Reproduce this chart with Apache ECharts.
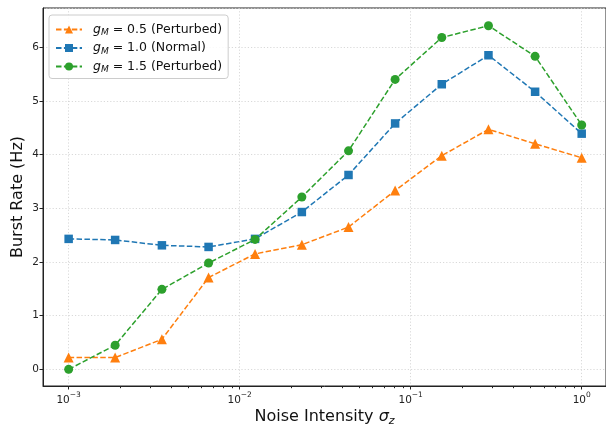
<!DOCTYPE html>
<html>
<head>
<meta charset="utf-8">
<script src="https://cdn.jsdelivr.net/npm/echarts@6/dist/echarts.min.js"></script>
<style>
html,body{margin:0;padding:0;background:#fff;}
#c{width:606px;height:426px;}
</style>
</head>
<body>
<div id="c"></div>
<script>
// noise intensity values (x)
const noise = [0.001, 0.00187, 0.00351, 0.00658, 0.0123, 0.0231, 0.0433, 0.0811, 0.152, 0.285, 0.534, 1.0];
// burst rates (Hz)
const rateLow = [0.22, 0.22, 0.56, 1.71, 2.15, 2.32, 2.65, 3.33, 3.98, 4.47, 4.20, 3.94];   // gM = 0.5
const rateNormal = [2.43, 2.41, 2.31, 2.28, 2.43, 2.93, 3.62, 4.58, 5.31, 5.85, 5.17, 4.39]; // gM = 1.0
const rateHigh = [0.00, 0.45, 1.49, 1.98, 2.42, 3.21, 4.07, 5.40, 6.18, 6.40, 5.83, 4.55];  // gM = 1.5
const seriesNames = ['gM = 0.5 (Perturbed)', 'gM = 1.0 (Normal)', 'gM = 1.5 (Perturbed)'];
const legendValues = ['0.5 (Perturbed)', '1.0 (Normal)', '1.5 (Perturbed)'];
const minorTicks = [0.002,0.003,0.004,0.005,0.006,0.007,0.008,0.009,
  0.02,0.03,0.04,0.05,0.06,0.07,0.08,0.09,
  0.2,0.3,0.4,0.5,0.6,0.7,0.8,0.9];
const supLabels = {'-3':'−3','-2':'−2','-1':'−1','0':'0'};

const FONT = 'DejaVu Sans';
const chart = echarts.init(document.getElementById('c'), null, {renderer:'canvas'});
const pair = (ys) => noise.map((x, i) => [x, ys[i]]);
const dash = [5.5, 2.4];
const colors = ['#ff7f0e', '#1f77b4', '#2ca02c'];
const symbols = ['triangle', 'rect', 'circle'];
const sizes = [10, 8.5, 9];
const dataSets = [rateLow, rateNormal, rateHigh];
const X_MIN = 0.000708, X_MAX = 1.387;

const series = dataSets.map((d, i) => ({
  name: seriesNames[i],
  type: 'line',
  xAxisIndex: 0, yAxisIndex: 0,
  data: pair(d),
  symbol: symbols[i],
  symbolSize: sizes[i],
  showAllSymbol: true,
  itemStyle: {color: colors[i]},
  lineStyle: {color: colors[i], width: 1.5, type: dash},
  emphasis: {disabled: true},
  animation: false,
  z: 3 + i
}));

chart.setOption({
  animation: false,
  textStyle: {fontFamily: FONT},
  grid: {left: 43, top: 8, right: 0, bottom: 40, show: true, borderColor: '#222', borderWidth: 1, containLabel: false, outerBoundsMode: 'none'},
  legend: {
    orient: 'vertical', left: 49, top: 15,
    padding: [8, 6, 4, 6],
    itemWidth: 26, itemHeight: 10, itemGap: 4,
    backgroundColor: 'rgba(255,255,255,0.85)',
    borderColor: '#cccccc', borderWidth: 1, borderRadius: 3,
    data: seriesNames,
    formatter: (name) => '{i|g}{s|M}{t| = ' + legendValues[seriesNames.indexOf(name)] + '}',
    textStyle: {
      fontFamily: FONT, color: '#111', padding: [0, 0, 0, 6],
      rich: {
        i: {fontFamily: FONT, fontSize: 12.5, fontStyle: 'italic', lineHeight: 16, color: '#111'},
        s: {fontFamily: FONT, fontSize: 9, fontStyle: 'italic', lineHeight: 9, verticalAlign: 'bottom', color: '#111'},
        t: {fontFamily: FONT, fontSize: 12.5, lineHeight: 16, color: '#111'}
      }
    }
  },
  xAxis: [{
    type: 'log', logBase: 10,
    min: X_MIN, max: X_MAX,
    position: 'bottom',
    name: 'Noise Intensity {i|σ}{s|z}',
    nameLocation: 'middle', nameGap: 20.5, nameMoveOverlap: false,
    nameTextStyle: {
      fontFamily: FONT, fontSize: 16, color: '#111',
      rich: {
        i: {fontFamily: FONT, fontSize: 16, fontStyle: 'italic', lineHeight: 20, color: '#111'},
        s: {fontFamily: FONT, fontSize: 11, fontStyle: 'italic', lineHeight: 11, verticalAlign: 'bottom', color: '#111'}
      }
    },
    axisLine: {show: true, onZero: false, lineStyle: {color: '#222', width: 1}},
    axisTick: {show: true, length: 3.5, inside: false, lineStyle: {color: '#222'}},
    axisLabel: {
      showMinLabel: false, showMaxLabel: false, margin: 5,
      color: '#222',
      formatter: (v) => {
        const e = String(Math.round(Math.log10(v)));
        return '{b|10}{p|' + (supLabels[e] || e) + '}';
      },
      rich: {
        b: {fontFamily: FONT, fontSize: 10.5, lineHeight: 15, verticalAlign: 'bottom', color: '#222'},
        p: {fontFamily: FONT, fontSize: 7.5, lineHeight: 9, verticalAlign: 'top', color: '#222'}
      }
    },
    splitLine: {show: true, lineStyle: {color: '#cfcfcf', type: [1.2, 2], width: 0.8}},
    minorTick: {show: false},
    minorSplitLine: {show: false}
  }, {
    type: 'log', logBase: 10,
    min: X_MIN, max: X_MAX,
    position: 'bottom',
    axisLine: {show: true, onZero: true, onZeroAxisIndex: 1, lineStyle: {color: 'rgba(0,0,0,0)'}},
    axisTick: {show: true, length: 2.2, inside: false, customValues: minorTicks, lineStyle: {color: '#222', width: 1}},
    axisLabel: {show: false},
    splitLine: {show: false}
  }],
  yAxis: [{
    type: 'value', min: -0.31, max: 6.73, splitNumber: 7,
    name: 'Burst Rate (Hz)', nameLocation: 'middle', nameGap: 17, nameMoveOverlap: false,
    nameTextStyle: {fontFamily: FONT, fontSize: 16, color: '#111'},
    axisLine: {show: true, onZero: false, lineStyle: {color: '#222', width: 1}},
    axisTick: {show: true, length: 3.5, inside: false, lineStyle: {color: '#222'}},
    axisLabel: {showMinLabel: false, showMaxLabel: false, margin: 4, fontFamily: FONT, fontSize: 10.5, color: '#222'},
    splitLine: {show: true, lineStyle: {color: '#cfcfcf', type: [1.2, 2], width: 0.8}}
  }, {
    type: 'value', min: 0, max: 1, position: 'right',
    axisLine: {show: false}, axisTick: {show: false}, axisLabel: {show: false}, splitLine: {show: false}
  }],
  series: series
});
</script>
</body>
</html>
